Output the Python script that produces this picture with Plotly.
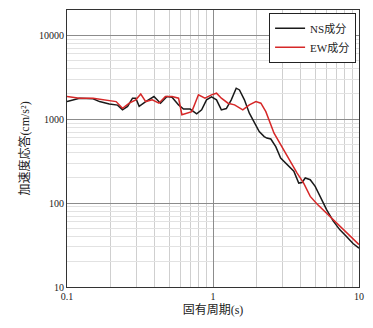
import plotly.graph_objects as go

# Period (s) and acceleration response (cm/s^2)
ns_period = [0.100, 0.122, 0.151, 0.167, 0.195, 0.222, 0.240, 0.260, 0.281, 0.296, 0.312, 0.346,
             0.394, 0.437, 0.484, 0.524, 0.581, 0.628, 0.697, 0.773, 0.836, 0.903, 0.977, 1.057,
             1.141, 1.234, 1.334, 1.442, 1.518, 1.641, 1.774, 1.918, 2.073, 2.242, 2.337, 2.489,
             2.691, 2.906, 3.222, 3.578, 3.865, 4.071, 4.285, 4.634, 5.010, 5.415, 6.009, 6.668,
             7.399, 8.209, 9.100, 10.0]
ns_accel = [1620, 1780, 1750, 1620, 1520, 1470, 1290, 1420, 1780, 1780, 1420, 1620,
            1860, 1550, 1860, 1830, 1480, 1320, 1320, 1160, 1290, 1700, 1840, 1700,
            1290, 1340, 1700, 2340, 2230, 1700, 1180, 900, 710, 620, 595, 580,
            470, 345, 285, 240, 173, 176, 199, 190, 158, 120, 83, 61,
            48, 40, 33, 29]

ew_period = [0.100, 0.122, 0.151, 0.185, 0.217, 0.240, 0.267, 0.296, 0.320, 0.346, 0.384, 0.426,
             0.472, 0.524, 0.581, 0.612, 0.662, 0.716, 0.795, 0.881, 0.977, 1.057, 1.141, 1.267,
             1.405, 1.600, 1.774, 1.967, 2.128, 2.301, 2.619, 2.906, 3.222, 3.767, 4.178, 4.634,
             5.140, 5.700, 6.336, 7.031, 8.209, 10.0]
ew_accel = [1860, 1780, 1780, 1700, 1620, 1350, 1550, 1700, 1990, 1620, 1700, 1550,
            1860, 1860, 1780, 1130, 1180, 1230, 1950, 1780, 1950, 2040, 1780, 1550,
            1480, 1290, 1480, 1620, 1550, 1230, 680, 494, 360, 228, 173, 120,
            98, 82, 69, 58, 44, 32]

x_tickvals = [0.1, 1, 10]
x_ticktext = ["0.1", "1", "10"]
y_tickvals = [10, 100, 1000, 10000]
y_ticktext = ["10", "100", "1000", "10000"]

FONT = "Liberation Serif, Times New Roman, Noto Sans CJK JP, serif"

fig = go.Figure()
fig.add_trace(go.Scatter(x=ns_period, y=ns_accel, mode="lines", name="NS成分",
                         line=dict(color="#1a1a1a", width=1.5)))
fig.add_trace(go.Scatter(x=ew_period, y=ew_accel, mode="lines", name="EW成分",
                         line=dict(color="#d62828", width=1.5)))

axis_common = dict(
    type="log",
    showline=True, linecolor="#333333", linewidth=1.2, mirror=True,
    showgrid=True, gridcolor="#8c8c8c", gridwidth=1,
    ticks="", zeroline=False,
    tickfont=dict(family=FONT, size=10, color="#222222"),
)

fig.update_xaxes(
    **axis_common,
    range=[-1, 1],
    tickvals=x_tickvals, ticktext=x_ticktext,
    minor=dict(showgrid=True, gridcolor="#cfcfcf", gridwidth=1, dtick="D1", ticks=""),
    title=dict(text="固有周期(s)", font=dict(family=FONT, size=12, color="#222222"), standoff=4),
)
fig.update_yaxes(
    **axis_common,
    range=[1, 4.301],
    tickvals=y_tickvals, ticktext=y_ticktext,
    minor=dict(showgrid=True, gridcolor="#e2e2e2", gridwidth=1, dtick="D1", ticks=""),
    title=dict(text="加速度応答(cm/s²)", font=dict(family=FONT, size=12, color="#222222"), standoff=6),
)

fig.update_layout(
    width=373, height=328,
    margin=dict(l=67, r=10, t=9, b=41),
    paper_bgcolor="white", plot_bgcolor="white",
    showlegend=True,
    legend=dict(
        x=0.99, y=0.99, xanchor="right", yanchor="top",
        bgcolor="white", bordercolor="#222222", borderwidth=1,
        font=dict(family=FONT, size=11, color="#222222"),
        itemwidth=30, tracegroupgap=2,
    ),
)

fig.write_html("out.html")
